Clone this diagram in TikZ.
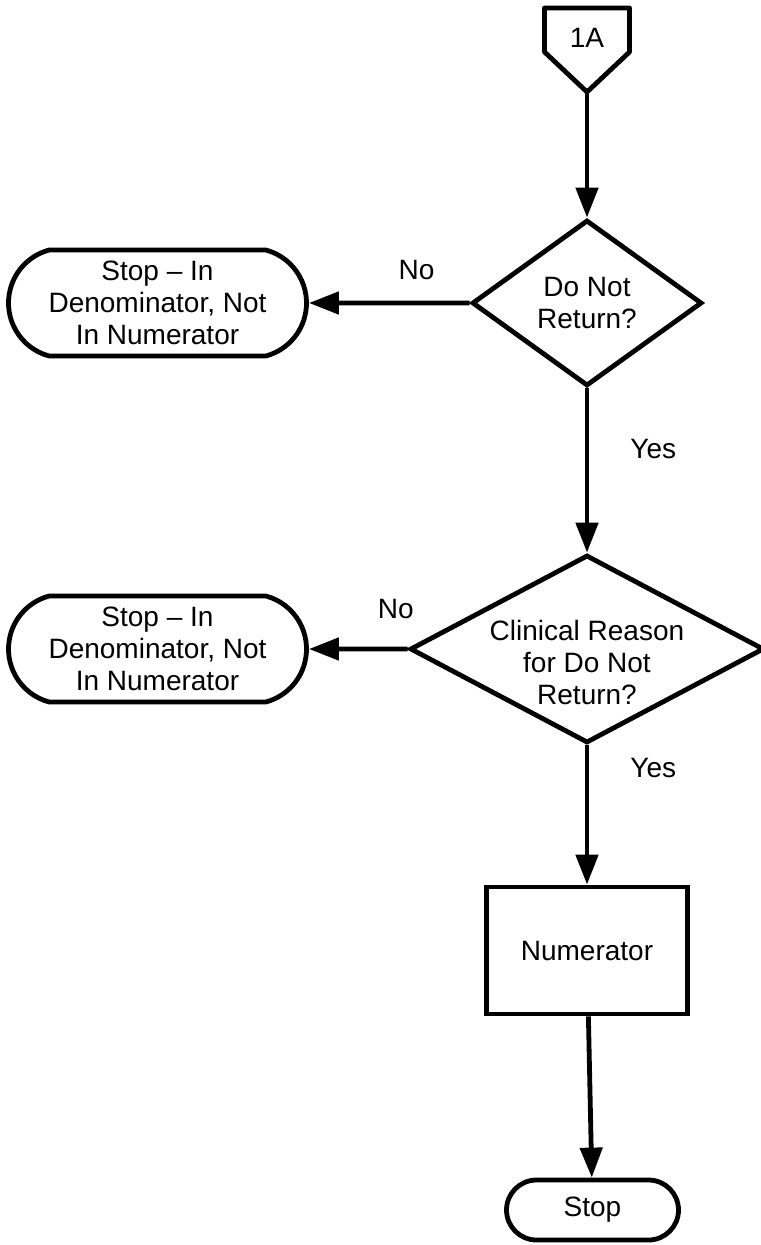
\documentclass[tikz,border=0pt]{standalone}
\usepackage{fontspec}
\setmainfont{Liberation Sans}
\usepackage{tikz}
\usetikzlibrary{shapes.geometric, shapes.misc, arrows.meta, positioning}
\tikzstyle{block} = [draw, fill=white, rectangle, minimum width=100.5pt, minimum height=63.5pt]
\tikzstyle{decision} = [draw, fill=white, diamond, inner sep=0pt, align=center]
\tikzstyle{terminal} = [draw, fill=white, rounded rectangle, align=center, inner sep=0pt]
\tikzstyle{lbl} = [inner sep=0pt]

\begin{document}
\begin{tikzpicture}[>={Triangle[length=15pt,width=11pt]}, line width=2.4pt,
    font=\fontsize{14}{16}\selectfont]
    \useasboundingbox (0,0) rectangle (380pt,-622.5pt);
    % off-page connector
    \node[] (conn) at (293.5pt,-19pt) {1A};
    \coordinate[below=27pt of conn.center] (conntip);
    \draw[line join=round] (conntip) -- ++(-21.25pt,20pt) -- ++(0,22pt) -- ++(42.5pt,0) -- ++(0,-22pt) -- cycle;
    \node[decision, below of=conn, node distance=132.5pt, minimum width=115pt, minimum height=83pt] (d1) {Do Not\\Return?};
    \node[terminal, left of=d1, node distance=214.75pt, minimum width=149pt, minimum height=53pt,
        rounded rectangle arc length=150] (stop1) {Stop -- In\\Denominator, Not\\In Numerator};
    % text is wider than the diamond allows, so it goes in a label
    \node[decision, below of=d1, node distance=173pt, minimum width=177pt, minimum height=94pt,
        label={[align=center, yshift=-6.5pt]center:Clinical Reason\\for Do Not\\Return?}] (d2) {};
    \node[terminal, left of=d2, node distance=214.75pt, minimum width=149pt, minimum height=53pt,
        rounded rectangle arc length=150] (stop2) {Stop -- In\\Denominator, Not\\In Numerator};
    \node[block, below of=d2, node distance=150.75pt] (num) {Numerator};
    \node[terminal, below of=num, node distance=129.75pt, xshift=2.75pt, minimum width=86pt, minimum height=30pt] (stop3) {Stop};
    \draw[->] (conntip) -- (d1);
    \draw[->] (d1) -- node[lbl, pos=0.33, above=10.5pt] {No} (stop1);
    \draw[->] (d1) -- node[lbl, pos=0.37, right=20.5pt] {Yes} (d2);
    \draw[->] (d2) -- node[lbl, pos=0.12, above=14pt] {No} (stop2);
    \draw[->] (d2) -- node[lbl, pos=0.16, right=20.5pt] {Yes} (num);
    \draw[->] (num) -- (stop3);
\end{tikzpicture}
\end{document}
